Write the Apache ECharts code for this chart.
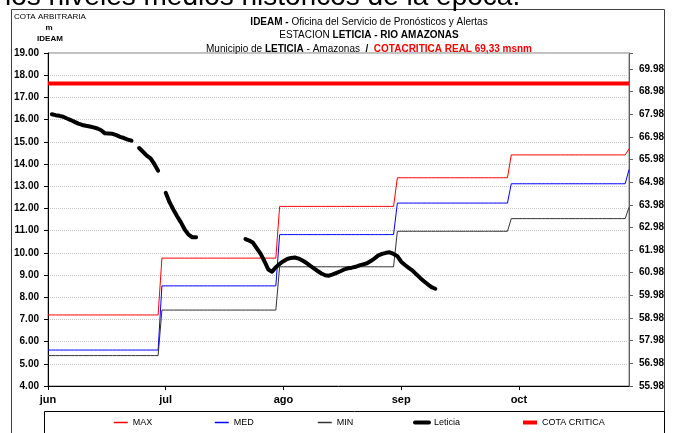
<!DOCTYPE html>
<html>
<head>
<meta charset="utf-8">
<script src="https://cdn.jsdelivr.net/npm/echarts@6/dist/echarts.min.js"></script>
<style>
  html, body { margin: 0; padding: 0; background: #ffffff; overflow: hidden; }
  #chart { width: 677px; height: 433px; }
</style>
</head>
<body>
<div id="chart"></div>
<script>
// Months shown on the axis and the number of daily points per month
const MESES = ['jun', 'jul', 'ago', 'sep', 'oct', 'nov'];
const DIAS_MES = [30, 31, 31, 30, 31, 1];

// Historical monthly levels (m, arbitrary gauge datum)
const MAX_MES = [7.20, 9.76, 12.09, 13.38, 14.41, 14.68];
const MED_MES = [5.62, 8.51, 10.82, 12.24, 13.11, 13.75];
const MIN_MES = [5.37, 7.42, 9.37, 10.97, 11.54, 12.05];

// Daily observed level at Leticia (m), null = no reading
const LETICIA = [
  null, 16.24, 16.20, 16.17, 16.13, 16.05, 15.98, 15.90, 15.82, 15.76,
  15.72, 15.69, 15.65, 15.60, 15.52, 15.38, 15.37, 15.36, 15.30, 15.22,
  15.17, 15.10, 15.05, null, 14.72, 14.55, 14.38, 14.25, 14.00, 13.70,
  null, 12.70, 12.28, 11.95, 11.65, 11.37, 11.05, 10.82, 10.70, 10.70,
  null, null, null, null, null, null, null, null, null, null,
  null, null, 10.62, 10.55, 10.45, 10.20, 9.95, 9.62, 9.25, 9.15,
  9.35, 9.50, 9.62, 9.72, 9.77, 9.79, 9.74, 9.65, 9.55, 9.42,
  9.30, 9.18, 9.07, 8.99, 8.97, 9.03, 9.10, 9.17, 9.25, 9.30,
  9.33, 9.37, 9.43, 9.48, 9.53, 9.63, 9.75, 9.88, 9.95, 10.00,
  10.02, 9.95, 9.85, 9.60, 9.45, 9.32, 9.20, 9.03, 8.87, 8.72,
  8.58, 8.45, 8.38
];

// Critical level (m above sea level) and the msnm value of the right axis origin
const COTA_CRITICA = 69.33;
const BASE_MSNM = 55.98;

// Left axis range (m) and right axis span above its origin
const Y_MIN = 4, Y_MAX = 19;
const Y2_SPAN = 14.7;

const FONT = '"Liberation Sans", Arial, sans-serif';

// Daily categories built from the month table
const dias = [];
MESES.forEach((m, i) => { for (let d = 1; d <= DIAS_MES[i]; d++) dias.push(m + ' ' + d); });

// Monthly values held constant over each day of the month
function porDia(valores) {
  const out = [];
  valores.forEach((v, i) => { for (let d = 0; d < DIAS_MES[i]; d++) out.push(v); });
  return out;
}

const leticiaData = dias.map((_, i) => (i < LETICIA.length ? LETICIA[i] : null));
const cotaData = dias.map(() => COTA_CRITICA - BASE_MSNM);

const chart = echarts.init(document.getElementById('chart'), null, { renderer: 'canvas' });

const legendItem = (name, left, width) => ({
  data: [name],
  left: left,
  top: 418,
  padding: 0,
  itemWidth: 14,
  itemHeight: 10,
  itemGap: 0,
  selectedMode: false,
  lineStyle: { width: width },
  itemStyle: { opacity: 0 },
  textStyle: { fontFamily: FONT, fontSize: 9, color: '#000' }
});

const lineCaps = { cap: 'round', join: 'round' };

chart.setOption({
  animation: false,
  backgroundColor: '#ffffff',
  title: {
    left: 364,
    top: 10,
    textAlign: 'center',
    text: '{b|IDEAM -} Oficina del Servicio de Pronósticos y Alertas\n' +
          'ESTACION {b|LETICIA - RIO AMAZONAS}\n' +
          'Municipio de {b|LETICIA} - Amazonas  {b|/}  {r|COTACRITICA REAL 69,33 msnm}',
    textStyle: {
      fontFamily: FONT, fontSize: 10, fontWeight: 'normal', color: '#000', lineHeight: 13.5,
      rich: {
        b: { fontFamily: FONT, fontSize: 10, fontWeight: 'bold', color: '#000', lineHeight: 13.5 },
        r: { fontFamily: FONT, fontSize: 10, fontWeight: 'bold', color: '#ff0000', lineHeight: 13.5 }
      }
    }
  },
  legend: [
    legendItem('MAX', 113, 1.5),
    legendItem('MED', 214, 1.5),
    legendItem('MIN', 317, 1.5),
    legendItem('Leticia', 413, 4),
    legendItem('COTA CRITICA', 521, 4)
  ],
  grid: {
    left: 48, right: 48, top: 53, bottom: 47,
    show: true, borderColor: '#808080', borderWidth: 1, backgroundColor: 'transparent'
  },
  xAxis: {
    type: 'category',
    data: dias,
    boundaryGap: false,
    axisLine: { lineStyle: { color: '#000', width: 1 } },
    axisTick: { interval: 30, length: 4, inside: false, lineStyle: { color: '#000' } },
    axisLabel: {
      interval: 30, margin: 8,
      formatter: v => v.split(' ')[0],
      fontFamily: FONT, fontSize: 11, fontWeight: 'bold', color: '#000'
    },
    splitLine: { show: false }
  },
  yAxis: [
    {
      type: 'value', min: Y_MIN, max: Y_MAX, interval: 1,
      axisLine: { show: true, lineStyle: { color: '#000' } },
      axisTick: { show: true, length: 4, lineStyle: { color: '#000' } },
      axisLabel: {
        formatter: v => v.toFixed(2), margin: 9,
        fontFamily: FONT, fontSize: 10, fontWeight: 'bold', color: '#000'
      },
      splitLine: { show: true, lineStyle: { color: '#c8c8c8', type: [1, 1], width: 1 } }
    },
    {
      type: 'value', min: 0, max: Y2_SPAN, interval: 1, position: 'right',
      axisLine: { show: true, lineStyle: { color: '#606060' } },
      axisTick: { show: true, length: 4, lineStyle: { color: '#606060' } },
      axisLabel: {
        formatter: v => (Math.abs(v - Math.round(v)) < 1e-6 ? (v + BASE_MSNM).toFixed(2) : ''),
        margin: 10,
        fontFamily: FONT, fontSize: 10, fontWeight: 'bold', color: '#000'
      },
      splitLine: { show: false }
    }
  ],
  series: [
    { name: 'MAX', type: 'line', data: porDia(MAX_MES), symbol: 'none', color: '#ff0000',
      lineStyle: { color: '#ff0000', width: 1 }, z: 2 },
    { name: 'MED', type: 'line', data: porDia(MED_MES), symbol: 'none', color: '#0000ff',
      lineStyle: { color: '#0000ff', width: 1 }, z: 2 },
    { name: 'MIN', type: 'line', data: porDia(MIN_MES), symbol: 'none', color: '#333333',
      lineStyle: { color: '#333333', width: 1 }, z: 2 },
    { name: 'Leticia', type: 'line', data: leticiaData, symbol: 'none', connectNulls: false,
      color: '#000000', lineStyle: Object.assign({ color: '#000000', width: 4 }, lineCaps), z: 3 },
    { name: 'COTA CRITICA', type: 'line', yAxisIndex: 1, data: cotaData, symbol: 'none',
      color: '#ff0000', lineStyle: { color: '#ff0000', width: 4 }, z: 4 }
  ],
  graphic: [
    { type: 'text', x: 5, y: -3, z: 10,
      style: { text: 'los niveles medios históricos de la época.', fontFamily: FONT,
               fontSize: 28, fill: '#000', verticalAlign: 'middle' } },
    { type: 'rect', shape: { x: 11.5, y: 9.5, width: 653, height: 440 }, z: 0, silent: true,
      style: { fill: 'none', stroke: '#404040', lineWidth: 1 } },
    { type: 'rect', shape: { x: 44.5, y: 411.5, width: 620, height: 40 }, z: 0, silent: true,
      style: { fill: 'none', stroke: '#000', lineWidth: 1 } },
    { type: 'text', x: 50, y: 13, z: 10,
      style: { text: 'COTA ARBITRARIA', fontFamily: FONT, fontSize: 8, fill: '#000', align: 'center' } },
    { type: 'text', x: 49, y: 24, z: 10,
      style: { text: 'm', fontFamily: FONT, fontSize: 8, fontWeight: 'bold', fill: '#000', align: 'center' } },
    { type: 'text', x: 50, y: 35, z: 10,
      style: { text: 'IDEAM', fontFamily: FONT, fontSize: 8, fontWeight: 'bold', fill: '#000', align: 'center' } }
  ]
});
</script>
</body>
</html>
